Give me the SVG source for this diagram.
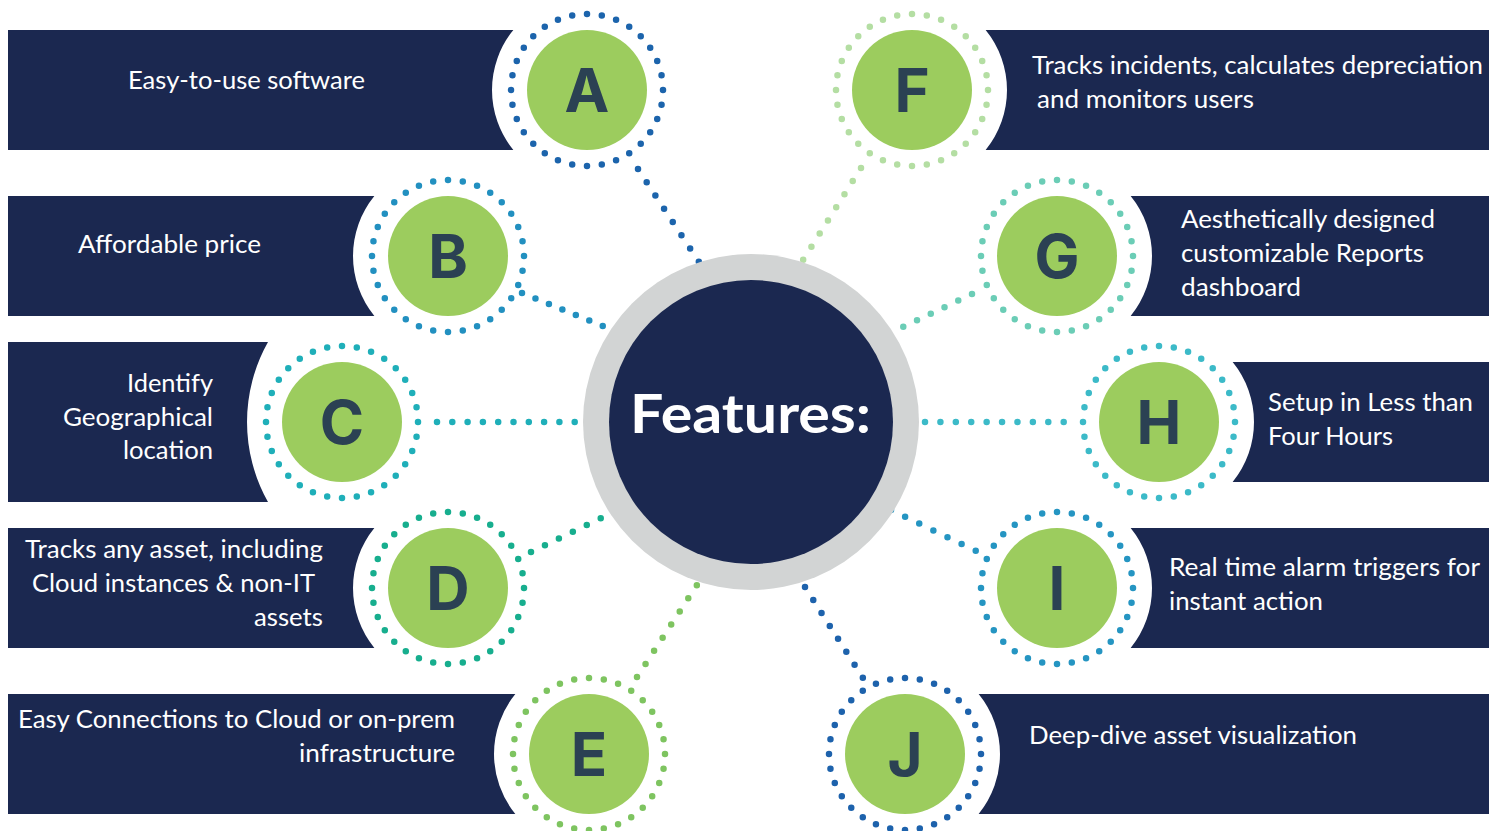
<svg xmlns="http://www.w3.org/2000/svg" width="1500" height="831" viewBox="0 0 1500 831">
<style>
.bn{fill:#1B2850}
.ring{fill:none;stroke-width:6.5;stroke-linecap:round;stroke-dasharray:0 1}
.gc{fill:#9CCC5E}
.lt{font-family:Inter,"Liberation Sans",sans-serif;font-weight:700;font-size:60px;fill:#2B4153;text-anchor:middle}
.tx{font-family:Lato,"Liberation Sans",sans-serif;font-size:25px;fill:#FFFFFF}
.cn{fill:none;stroke-width:6.5;stroke-linecap:round;stroke-dasharray:0 1}
</style>
<rect width="1500" height="831" fill="#FFFFFF"/>
<g id="connectors">
<line class="cn" x1="638" y1="169" x2="699" y2="262" pathLength="7.02" stroke="#1C64AC"/>
<line class="cn" x1="522" y1="293" x2="603" y2="326" pathLength="6.02" stroke="#2290C0"/>
<line class="cn" x1="437" y1="422" x2="575" y2="422" pathLength="9.02" stroke="#1FAFB9"/>
<line class="cn" x1="531" y1="552" x2="601" y2="518" pathLength="5.02" stroke="#17AE8E"/>
<line class="cn" x1="637" y1="677" x2="697" y2="585" pathLength="7.02" stroke="#7EC460"/>
<line class="cn" x1="861" y1="168" x2="803" y2="260" pathLength="7.02" stroke="#B4DEA3"/>
<line class="cn" x1="972" y1="294" x2="903" y2="327" pathLength="5.02" stroke="#6BCDB6"/>
<line class="cn" x1="925" y1="422" x2="1064" y2="422" pathLength="9.02" stroke="#3CBAC8"/>
<line class="cn" x1="891" y1="510" x2="976" y2="551" pathLength="6.02" stroke="#2595C2"/>
<line class="cn" x1="805" y1="587" x2="863" y2="678" pathLength="7.02" stroke="#1D62AC"/>
</g>
<g id="center">
<circle cx="751" cy="422" r="168" fill="#D2D4D4"/>
<circle cx="751" cy="422" r="142" fill="#1B2850"/>
<text x="630" y="433" textLength="241" lengthAdjust="spacingAndGlyphs" font-family="Lato,'Liberation Sans',sans-serif" font-weight="700" font-size="54" fill="#FFFFFF">Features:</text>
</g>
<g id="node-A">
<path class="bn" d="M8,30 H513.35 A95,95 0 0 0 513.35,150 H8 Z"/>
<circle class="ring" cx="587" cy="90" r="76" pathLength="32" stroke="#1C64AC"/>
<circle class="gc" cx="587" cy="90" r="60"/>
<text class="lt" x="587" y="112">A</text>
<text class="tx" x="128" y="89" textLength="237" lengthAdjust="spacingAndGlyphs">Easy-to-use software</text>
</g>
<g id="node-B">
<path class="bn" d="M8,196 H374.35 A95,95 0 0 0 374.35,316 H8 Z"/>
<circle class="ring" cx="448" cy="256" r="76" pathLength="32" stroke="#2290C0"/>
<circle class="gc" cx="448" cy="256" r="60"/>
<text class="lt" x="448" y="278">B</text>
<text class="tx" x="78" y="253" textLength="183" lengthAdjust="spacingAndGlyphs">Affordable price</text>
</g>
<g id="node-C">
<path class="bn" d="M8,342 H268 A163,163 0 0 0 268,502 H8 Z"/>
<circle class="ring" cx="342" cy="422" r="76" pathLength="32" stroke="#1FAFB9"/>
<circle class="gc" cx="342" cy="422" r="60"/>
<text class="lt" x="342" y="444">C</text>
<text class="tx" x="127" y="392" textLength="86" lengthAdjust="spacingAndGlyphs">Identify</text>
<text class="tx" x="63" y="426" textLength="150" lengthAdjust="spacingAndGlyphs">Geographical</text>
<text class="tx" x="123" y="459" textLength="90" lengthAdjust="spacingAndGlyphs">location</text>
</g>
<g id="node-D">
<path class="bn" d="M8,528 H374.35 A95,95 0 0 0 374.35,648 H8 Z"/>
<circle class="ring" cx="448" cy="588" r="76" pathLength="32" stroke="#17AE8E"/>
<circle class="gc" cx="448" cy="588" r="60"/>
<text class="lt" x="448" y="610">D</text>
<text class="tx" x="25" y="558" textLength="298" lengthAdjust="spacingAndGlyphs">Tracks any asset, including</text>
<text class="tx" x="32" y="592" textLength="283" lengthAdjust="spacingAndGlyphs">Cloud instances &amp; non-IT</text>
<text class="tx" x="254" y="626" textLength="69" lengthAdjust="spacingAndGlyphs">assets</text>
</g>
<g id="node-E">
<path class="bn" d="M8,694 H515.35 A95,95 0 0 0 515.35,814 H8 Z"/>
<circle class="ring" cx="589" cy="754" r="76" pathLength="32" stroke="#7EC460"/>
<circle class="gc" cx="589" cy="754" r="60"/>
<text class="lt" x="589" y="776">E</text>
<text class="tx" x="18" y="728" textLength="437" lengthAdjust="spacingAndGlyphs">Easy Connections to Cloud or on-prem</text>
<text class="tx" x="299" y="762" textLength="156" lengthAdjust="spacingAndGlyphs">infrastructure</text>
</g>
<g id="node-F">
<path class="bn" d="M985.65,30 H1489 V150 H985.65 A95,95 0 0 0 985.65,30 Z"/>
<circle class="ring" cx="912" cy="90" r="76" pathLength="32" stroke="#B4DEA3"/>
<circle class="gc" cx="912" cy="90" r="60"/>
<text class="lt" x="912" y="112">F</text>
<text class="tx" x="1032" y="74" textLength="451" lengthAdjust="spacingAndGlyphs">Tracks incidents, calculates depreciation</text>
<text class="tx" x="1037" y="108" textLength="217" lengthAdjust="spacingAndGlyphs">and monitors users</text>
</g>
<g id="node-G">
<path class="bn" d="M1130.65,196 H1489 V316 H1130.65 A95,95 0 0 0 1130.65,196 Z"/>
<circle class="ring" cx="1057" cy="256" r="76" pathLength="32" stroke="#6BCDB6"/>
<circle class="gc" cx="1057" cy="256" r="60"/>
<text class="lt" x="1057" y="278">G</text>
<text class="tx" x="1181" y="228" textLength="254" lengthAdjust="spacingAndGlyphs">Aesthetically designed</text>
<text class="tx" x="1181" y="262" textLength="243" lengthAdjust="spacingAndGlyphs">customizable Reports</text>
<text class="tx" x="1181" y="296" textLength="120" lengthAdjust="spacingAndGlyphs">dashboard</text>
</g>
<g id="node-H">
<path class="bn" d="M1232.65,362 H1489 V482 H1232.65 A95,95 0 0 0 1232.65,362 Z"/>
<circle class="ring" cx="1159" cy="422" r="76" pathLength="32" stroke="#3CBAC8"/>
<circle class="gc" cx="1159" cy="422" r="60"/>
<text class="lt" x="1159" y="444">H</text>
<text class="tx" x="1268" y="411" textLength="205" lengthAdjust="spacingAndGlyphs">Setup in Less than</text>
<text class="tx" x="1268" y="445" textLength="125" lengthAdjust="spacingAndGlyphs">Four Hours</text>
</g>
<g id="node-I">
<path class="bn" d="M1130.65,528 H1489 V648 H1130.65 A95,95 0 0 0 1130.65,528 Z"/>
<circle class="ring" cx="1057" cy="588" r="76" pathLength="32" stroke="#2595C2"/>
<circle class="gc" cx="1057" cy="588" r="60"/>
<text class="lt" x="1057" y="610">I</text>
<text class="tx" x="1169" y="576" textLength="311" lengthAdjust="spacingAndGlyphs">Real time alarm triggers for</text>
<text class="tx" x="1169" y="610" textLength="154" lengthAdjust="spacingAndGlyphs">instant action</text>
</g>
<g id="node-J">
<path class="bn" d="M978.65,694 H1489 V814 H978.65 A95,95 0 0 0 978.65,694 Z"/>
<circle class="ring" cx="905" cy="754" r="76" pathLength="32" stroke="#1D62AC"/>
<circle class="gc" cx="905" cy="754" r="60"/>
<text class="lt" x="905" y="776">J</text>
<text class="tx" x="1029" y="744" textLength="328" lengthAdjust="spacingAndGlyphs">Deep-dive asset visualization</text>
</g>
</svg>
